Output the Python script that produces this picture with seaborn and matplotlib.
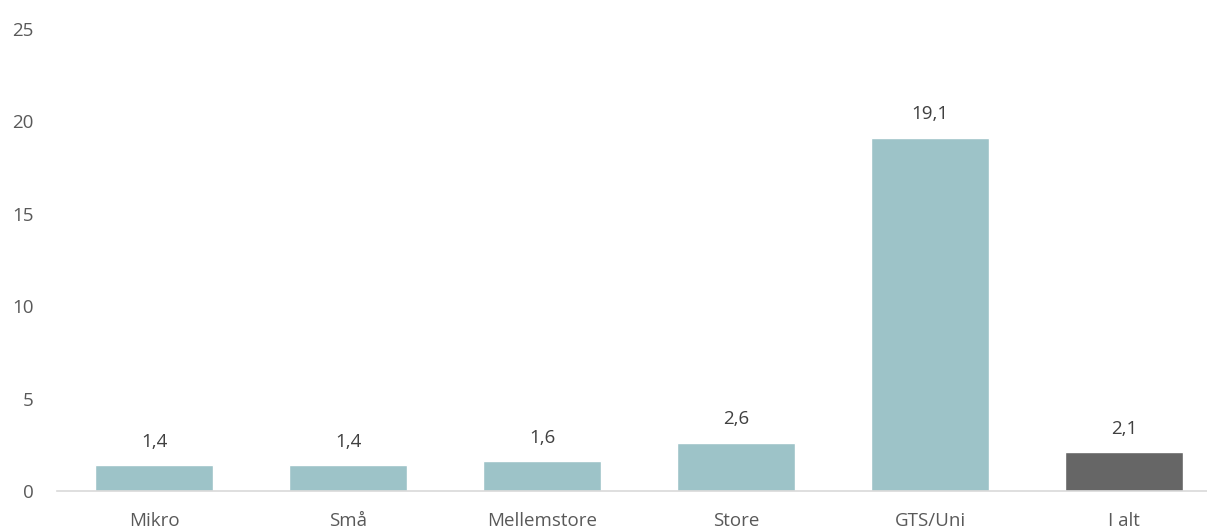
import pandas as pd
import matplotlib.pyplot as plt
import seaborn as sns

sns.set_theme(style="white")
plt.rcParams['font.family'] = ['Open Sans', 'DejaVu Sans']

# data
categories = ['Mikro', 'Små', 'Mellemstore', 'Store', 'GTS/Uni', 'I alt']
values = [1.4, 1.4, 1.6, 2.6, 19.1, 2.1]
labels = ['1,4', '1,4', '1,6', '2,6', '19,1', '2,1']
colors = ['#9dc3c8', '#9dc3c8', '#9dc3c8', '#9dc3c8', '#9dc3c8', '#666666']

df = pd.DataFrame({'kategori': categories, 'værdi': values})

fig = plt.figure(figsize=(12.07, 5.32), dpi=100)
ax = fig.add_axes([57 / 1207, 41 / 532, 1164 / 1207, 462 / 532])

sns.barplot(data=df, x='kategori', y='værdi', hue='kategori', palette=colors,
            legend=False, width=0.61, saturation=1, ax=ax)

for i, (v, lab) in enumerate(zip(values, labels)):
    ax.annotate(lab, (i, v), xytext=(0, 17), textcoords='offset points',
                ha='center', va='center', fontsize=13.5, color='#404040')

ax.set_ylim(0, 25)
ax.set_xlim(-0.5, 5.5)
ax.set_yticks([0, 5, 10, 15, 20, 25])
ax.set_xlabel('')
ax.set_ylabel('')
ax.tick_params(axis='both', length=0, labelsize=13.5, labelcolor='#595959')
ax.tick_params(axis='y', pad=17)
ax.tick_params(axis='x', pad=15)
for s in ['top', 'right', 'left']:
    ax.spines[s].set_visible(False)
ax.spines['bottom'].set_color('#d9d9d9')
ax.spines['bottom'].set_linewidth(1.2)
ax.grid(False)

fig.savefig('out.png', dpi=100)
